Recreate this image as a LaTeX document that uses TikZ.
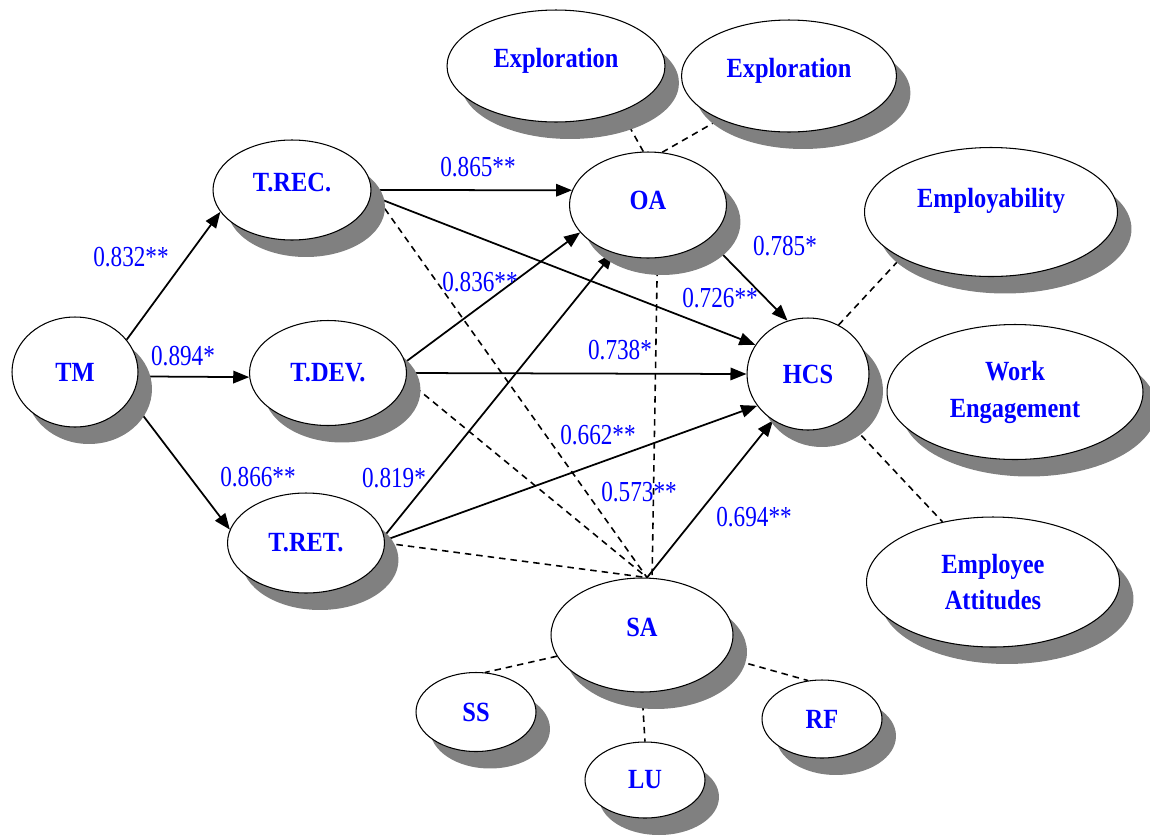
\documentclass[tikz,border=0pt]{standalone}
\usepackage{fontspec}
\usetikzlibrary{arrows.meta,shapes.geometric,shadows,backgrounds}
\newfontfamily\nodefont{Liberation Serif}[FakeStretch=0.88]
\newfontfamily\coeffont{Liberation Serif}[FakeStretch=0.8]
\definecolor{varblue}{RGB}{0,0,255}

\begin{document}
\begin{tikzpicture}[x=0.02cm, y=-0.02cm,
  latent/.style 2 args={
    ellipse, draw, fill=white, line width=0.6pt,
    minimum width=#1, minimum height=#2, inner sep=0pt,
    align=center, text=varblue,
    font=\nodefont\bfseries\fontsize{15.8}{21}\selectfont,
    drop shadow={shadow xshift=0.28cm, shadow yshift=-0.34cm,
      fill=black!50, opacity=1}
  },
  coef/.style={text=varblue, font=\coeffont\fontsize{16.5}{18}\selectfont},
  effect/.style={line width=1pt, -{Triangle[length=0.32cm,width=0.25cm]}},
  indic/.style={line width=0.9pt, dash pattern=on 0.13cm off 0.1cm}
]
  \useasboundingbox (0,0) rectangle (1150,839);

  % constructs
  \node[latent={2.52cm}{2.2cm}] (TM) at (75,372) {TM};
  \node[latent={3.16cm}{2.0cm}] (TREC) at (292,190) {\raisebox{0.32cm}{T.REC.}};
  \node[latent={3.14cm}{2.1cm}] (TDEV) at (328,373) {T.DEV.};
  \node[latent={3.14cm}{2.0cm}] (TRET) at (306,543) {T.RET.};
  \node[latent={4.36cm}{2.24cm}] (EXP1) at (556,66) {\raisebox{0.32cm}{Exploration}};
  \node[latent={4.3cm}{2.24cm}] (EXP2) at (789,76) {\raisebox{0.32cm}{Exploration}};
  \node[latent={3.14cm}{2.12cm}] (OA) at (648,205) {\raisebox{0.2cm}{OA}};
  \node[latent={2.44cm}{2.24cm}] (HCS) at (808,374) {HCS};
  \node[latent={5.06cm}{2.58cm}] (EMP) at (991,212) {\raisebox{0.56cm}{Employability}};
  \node[latent={5.12cm}{2.7cm}] (WE) at (1015,392) {Work\\Engagement};
  \node[latent={5.06cm}{2.6cm}] (EA) at (993,582) {Employee\\Attitudes};
  \node[latent={3.64cm}{2.28cm}] (SA) at (642,635) {\raisebox{0.32cm}{SA}};
  \node[latent={2.4cm}{1.58cm}] (SS) at (476,712) {SS};
  \node[latent={2.4cm}{1.52cm}] (LU) at (645,780) {LU};
  \node[latent={2.4cm}{1.56cm}] (RF) at (822,719) {RF};

  % path coefficients
  \node[coef] (c1) at (131,257) {0.832**};
  \node[coef] (c2) at (183,356) {0.894*};
  \node[coef] (c3) at (258,477) {0.866**};
  \node[coef] (c4) at (478,167) {0.865**};
  \node[coef] (c5) at (480,282) {0.836**};
  \node[coef] (c6) at (394,478) {0.819*};
  \node[coef] (c7) at (720,298) {0.726**};
  \node[coef] (c8) at (785,246) {0.785*};
  \node[coef] (c9) at (620,350) {0.738*};
  \node[coef] (c10) at (598,435) {0.662**};
  \node[coef] (c11) at (639,492) {0.573**};
  \node[coef] (c12) at (754,517) {0.694**};

  \begin{scope}[on background layer]
    % structural paths
    \draw[effect] (TM.32) -- (TREC.197);
    \draw[effect] (TM.-4) -- (TDEV.183);
    \draw[effect] (TM.-26) -- (TRET.170);
    \draw[effect] (TREC.east) -- (OA.169);
    \draw[effect] (TREC.-4) -- (HCS.151);
    \draw[effect] (TDEV.8) -- (OA.202);
    \draw[effect] (TDEV.east) -- (HCS.west);
    \draw[effect] (TRET.5) -- (OA.234);
    \draw[effect] (TRET.2) -- (HCS.212);
    \draw[effect] (OA.-30) -- (HCS.111);
    \draw[effect] (SA.85) -- (HCS.233);
    % dimensions and correlations
    \draw[indic] (TREC.east) -- (SA.85);
    \draw[indic] (TDEV.-5) -- (SA.85);
    \draw[indic] (TRET.east) -- (SA.85);
    \draw[indic] (OA.-80) -- (SA.80);
    \draw[indic] (OA.95) -- (EXP1.-35);
    \draw[indic] (OA.75) -- (EXP2.212);
    \draw[indic] (HCS.58) -- (EMP.207);
    \draw[indic] (HCS.-50) -- (EA.130);
    \draw[indic] (SA.194) -- (SS.77);
    \draw[indic] (SA.south) -- (LU.north);
    \draw[indic] (SA.-15) -- (RF.110);
  \end{scope}
\end{tikzpicture}
\end{document}
